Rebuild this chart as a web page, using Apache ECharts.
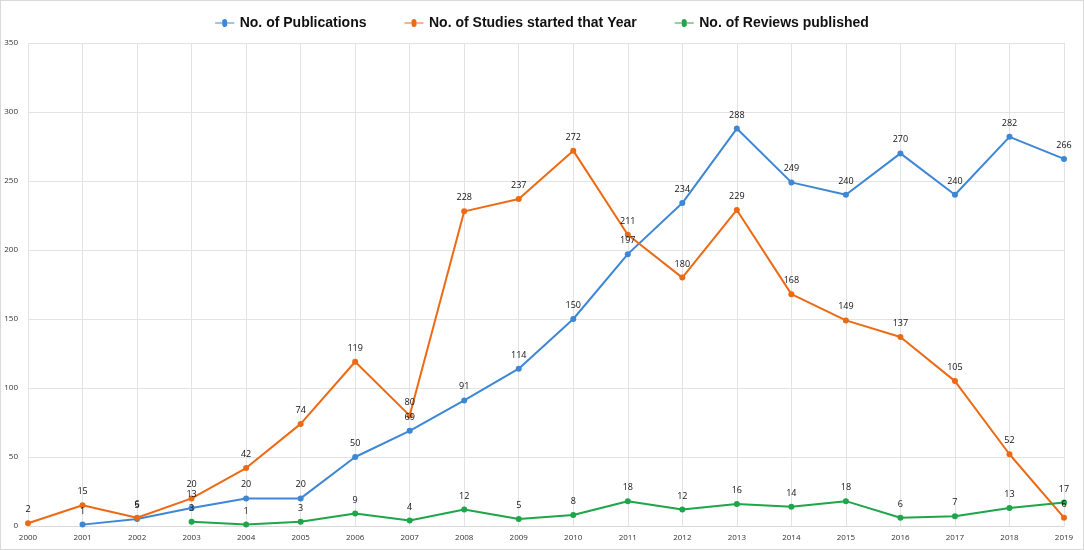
<!DOCTYPE html>
<html>
<head>
<meta charset="utf-8">
<script src="https://cdn.jsdelivr.net/npm/echarts@6/dist/echarts.min.js"></script>
<style>
  html, body { margin: 0; padding: 0; background: #fff; }
  #chart { width: 1084px; height: 550px; box-sizing: border-box; border: 1px solid #d9d9d9; }
</style>
</head>
<body>
<div id="chart"></div>
<script>
const years = ['2000', '2001', '2002', '2003', '2004', '2005', '2006', '2007', '2008', '2009',
  '2010', '2011', '2012', '2013', '2014', '2015', '2016', '2017', '2018', '2019']

const publications = [null, 1, 5, 13, 20, 20, 50, 69, 91, 114, 150, 197, 234, 288, 249, 240, 270, 240, 282, 266]
const studiesStarted = [2, 15, 6, 20, 42, 74, 119, 80, 228, 237, 272, 211, 180, 229, 168, 149, 137, 105, 52, 6]
const reviews = [null, null, null, 3, 1, 3, 9, 4, 12, 5, 8, 18, 12, 16, 14, 18, 6, 7, 13, 17]

const chart = echarts.init(document.getElementById('chart'))

const makeSeries = (name, data, color) => ({
  name,
  type: 'line',
  data,
  symbol: 'circle',
  symbolSize: 6,
  lineStyle: { width: 2, color },
  itemStyle: { color },
  label: {
    show: true,
    position: 'top',
    distance: 6,
    fontSize: 9,
    color: '#111',
    fontFamily: 'Open Sans'
  }
})

const option = {
  animation: false,
  backgroundColor: '#fff',
  legend: {
    top: 10,
    left: 'center',
    itemWidth: 20,
    itemHeight: 8,
    itemGap: 38,
    icon: 'path://M0,3.4 L7.6,3.4 A2.6,2.6 0 1 1 12.4,3.4 L20,3.4 L20,4.6 L12.4,4.6 A2.6,2.6 0 1 1 7.6,4.6 L0,4.6 Z',
    textStyle: { fontSize: 14, fontWeight: 'bold', color: '#111', fontFamily: 'Liberation Sans' },
    data: ['No. of Publications', 'No. of Studies started that Year', 'No. of Reviews published']
  },
  grid: { left: 27, right: 19, top: 42, bottom: 23 },
  xAxis: {
    type: 'category',
    data: years,
    boundaryGap: false,
    axisTick: { show: false },
    axisLine: { lineStyle: { color: '#d9d9d9', width: 1 } },
    axisLabel: { fontSize: 8, color: '#333', margin: 8, fontFamily: 'Open Sans' },
    splitLine: { show: true, lineStyle: { color: '#e3e3e3' } }
  },
  yAxis: {
    type: 'value',
    min: 0,
    max: 350,
    interval: 50,
    axisLine: { show: false },
    axisTick: { show: false },
    axisLabel: { fontSize: 8, color: '#333', margin: 10, fontFamily: 'Open Sans' },
    splitLine: { lineStyle: { color: '#e3e3e3' } }
  },
  series: [
    makeSeries('No. of Publications', publications, '#3d87d4'),
    makeSeries('No. of Studies started that Year', studiesStarted, '#ec6a14'),
    makeSeries('No. of Reviews published', reviews, '#1fa54a')
  ]
}

chart.setOption(option)
</script>
</body>
</html>
